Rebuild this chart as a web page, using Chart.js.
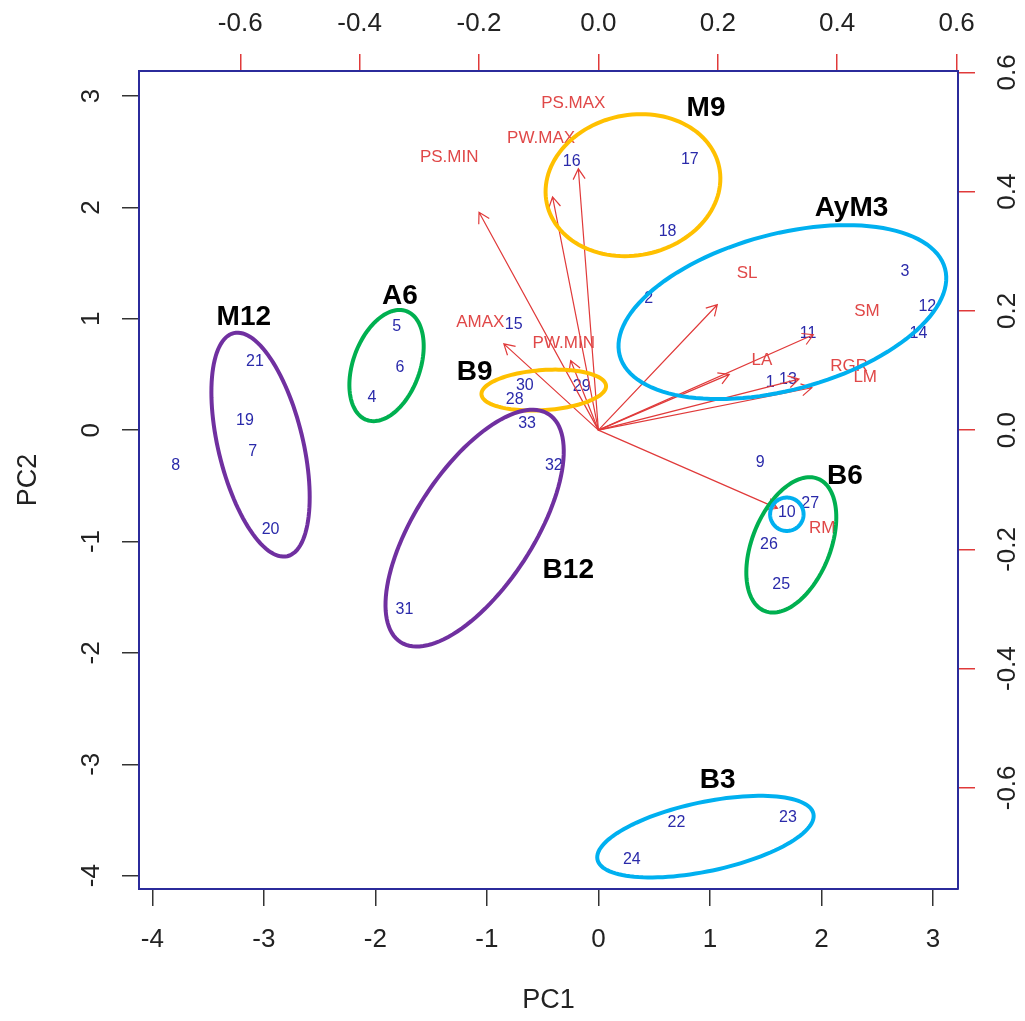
<!DOCTYPE html>
<html>
<head>
<meta charset="utf-8">
<title>PCA biplot</title>
<script src="https://cdn.jsdelivr.net/npm/chart.js@4.4.1/dist/chart.umd.min.js"></script>
<style>
  body { margin: 0; background: #fff; }
  canvas { display: block; }
</style>
</head>
<body>
<canvas id="biplot" width="1025" height="1021"></canvas>
<script>
// observation scores (PC1, PC2)
const obsLabels = ['1','2','3','4','5','6','7','8','9','10','11','12','13','14','15','16','17',
  '18','19','20','21','22','23','24','25','26','27','28','29','30','31','32','33'];
const obsPC1 = [1.54, 0.45, 2.75, -2.03, -1.81, -1.78, -3.10, -3.79, 1.45, 1.69, 1.88, 2.95, 1.70,
  2.87, -0.76, -0.24, 0.82, 0.62, -3.17, -2.94, -3.08, 0.70, 1.70, 0.30, 1.64, 1.53, 1.90,
  -0.75, -0.15, -0.66, -1.74, -0.40, -0.64];
const obsPC2 = [0.43, 1.18, 1.42, 0.29, 0.93, 0.56, -0.19, -0.32, -0.29, -0.74, 0.87, 1.11, 0.45,
  0.87, 0.95, 2.41, 2.43, 1.78, 0.09, -0.89, 0.62, -3.52, -3.48, -3.86, -1.39, -1.03, -0.66,
  0.27, 0.39, 0.40, -1.61, -0.32, 0.06];

// variable loadings (top / right axes)
const varNames = ['PS.MAX', 'PW.MAX', 'PS.MIN', 'AMAX', 'PW.MIN', 'SL', 'SM', 'LA', 'RGR', 'LM', 'RM'];
const varPC1 = [-0.042, -0.096, -0.250, -0.198, -0.058, 0.249, 0.450, 0.274, 0.420, 0.447, 0.375];
const varPC2 = [0.548, 0.489, 0.457, 0.181, 0.146, 0.263, 0.200, 0.117, 0.107, 0.089, -0.164];

// tick labels
const pcTicks = [-4, -3, -2, -1, 0, 1, 2, 3];
const loadTicks = [-0.6, -0.4, -0.2, 0, 0.2, 0.4, 0.6];

// group names written on the plot
const groupNames = ['M9', 'AyM3', 'A6', 'M12', 'B9', 'B12', 'B6', 'B3'];
const groupX = [0.965, 2.27, -1.78, -3.18, -1.11, -0.27, 2.21, 1.07];
const groupY = [2.89, 1.99, 1.20, 1.01, 0.52, -1.26, -0.41, -3.14];

// hand drawn rings round the groups, in PC units
const rings = [
  { cx: 0.31, cy: 2.20, a: 0.79, b: 0.63, angle: 12, color: '#ffc000' },
  { cx: 1.65, cy: 1.06, a: 1.51, b: 0.70, angle: 15, color: '#00b0f0' },
  { cx: -1.90, cy: 0.58, a: 0.52, b: 0.30, angle: 70, color: '#00b050' },
  { cx: -3.03, cy: -0.13, a: 1.03, b: 0.38, angle: 103.5, color: '#7030a0' },
  { cx: -0.49, cy: 0.36, a: 0.56, b: 0.18, angle: 4, color: '#ffc000' },
  { cx: -1.11, cy: -0.88, a: 1.22, b: 0.53, angle: 57, color: '#7030a0' },
  { cx: 1.73, cy: -1.03, a: 0.64, b: 0.35, angle: 68, color: '#00b050' },
  { cx: 1.69, cy: -0.755, a: 0.15, b: 0.15, angle: 0, color: '#00b0f0' },
  { cx: 0.96, cy: -3.65, a: 0.99, b: 0.31, angle: 12, color: '#00b0f0' }
];

const pcRange = [-4.12, 3.225];
const loadRatio = 5.353; // same ratio R's biplot uses between both pairs of axes

const FONT = "'Liberation Sans', Arial, sans-serif";
const boxColor = '#2b2b9b';

function drawArrow(ctx, x0, y0, x1, y1, len) {
  const ang = Math.atan2(y1 - y0, x1 - x0);
  ctx.beginPath();
  ctx.moveTo(x0, y0);
  ctx.lineTo(x1, y1);
  ctx.moveTo(x1 - len * Math.cos(ang - Math.PI / 6), y1 - len * Math.sin(ang - Math.PI / 6));
  ctx.lineTo(x1, y1);
  ctx.lineTo(x1 - len * Math.cos(ang + Math.PI / 6), y1 - len * Math.sin(ang + Math.PI / 6));
  ctx.stroke();
}

const biplotLayer = {
  id: 'biplotLayer',
  afterDatasetsDraw(chart) {
    const { ctx, scales } = chart;
    const sx = scales.x, sy = scales.y, lx = scales.x2, ly = scales.y2;
    ctx.save();
    ctx.textAlign = 'center';
    ctx.textBaseline = 'middle';

    // observation numbers
    ctx.fillStyle = '#2a2aaa';
    ctx.font = '16px ' + FONT;
    chart.getDatasetMeta(0).data.forEach((pt, i) => ctx.fillText(obsLabels[i], pt.x, pt.y));

    // arrows go to 0.8 of the loading, the name sits at the loading
    const ox = lx.getPixelForValue(0), oy = ly.getPixelForValue(0);
    ctx.strokeStyle = '#e03a3a';
    ctx.lineWidth = 1.2;
    varNames.forEach((name, i) => {
      drawArrow(ctx, ox, oy, lx.getPixelForValue(varPC1[i] * 0.8), ly.getPixelForValue(varPC2[i] * 0.8), 12);
    });
    ctx.fillStyle = '#e04848';
    ctx.font = '17px ' + FONT;
    chart.getDatasetMeta(1).data.forEach((pt, i) => ctx.fillText(varNames[i], pt.x, pt.y));

    // rings
    ctx.lineWidth = 4;
    rings.forEach(r => {
      const th = r.angle * Math.PI / 180;
      ctx.strokeStyle = r.color;
      ctx.beginPath();
      for (let k = 0; k <= 120; k++) {
        const t = k / 120 * 2 * Math.PI;
        const dx = r.a * Math.cos(t), dy = r.b * Math.sin(t);
        const px = sx.getPixelForValue(r.cx + dx * Math.cos(th) - dy * Math.sin(th));
        const py = sy.getPixelForValue(r.cy + dx * Math.sin(th) + dy * Math.cos(th));
        if (k === 0) ctx.moveTo(px, py); else ctx.lineTo(px, py);
      }
      ctx.closePath();
      ctx.stroke();
    });

    // group names
    ctx.fillStyle = '#000';
    ctx.font = 'bold 28px ' + FONT;
    groupNames.forEach((g, i) => ctx.fillText(g, sx.getPixelForValue(groupX[i]), sy.getPixelForValue(groupY[i])));
    ctx.restore();
  }
};

function axis(position, range, ticks, size, tickColor, pad, fmt, extra) {
  const horizontal = position === 'top' || position === 'bottom';
  return Object.assign({
    type: 'linear',
    position: position,
    min: range[0],
    max: range[1],
    afterBuildTicks: s => { s.ticks = ticks.map(v => ({ value: v })); },
    afterFit: s => { if (horizontal) s.height = size; else s.width = size; },
    grid: { drawOnChartArea: false, tickLength: 17, tickColor: tickColor, lineWidth: 1.5 },
    border: { color: boxColor, width: 2 },
    ticks: {
      autoSkip: false,
      padding: pad,
      color: '#222',
      font: { family: FONT, size: 26 },
      minRotation: horizontal ? 0 : 90,
      crossAlign: 'center',
      callback: v => fmt(v)
    }
  }, extra || {});
}

const pcFmt = v => String(v);
const loadFmt = v => v.toFixed(1);
const loadRange = [pcRange[0] / loadRatio, pcRange[1] / loadRatio];

new Chart(document.getElementById('biplot').getContext('2d'), {
  type: 'scatter',
  data: {
    datasets: [{
      label: 'scores',
      data: obsPC1.map((x, i) => ({ x: x, y: obsPC2[i] })),
      xAxisID: 'x',
      yAxisID: 'y',
      pointRadius: 0
    }, {
      label: 'loadings',
      data: varPC1.map((x, i) => ({ x: x, y: varPC2[i] })),
      xAxisID: 'x2',
      yAxisID: 'y2',
      pointRadius: 0
    }]
  },
  options: {
    responsive: false,
    animation: false,
    events: [],
    layout: { padding: 0 },
    plugins: { legend: { display: false }, tooltip: { enabled: false } },
    scales: {
      x: axis('bottom', pcRange, pcTicks, 132, '#333', 34, pcFmt, {
        title: { display: true, text: 'PC1', color: '#222', font: { family: FONT, size: 27 }, padding: { bottom: 4 } }
      }),
      y: axis('left', pcRange, pcTicks, 139, '#333', 19, pcFmt, {
        title: { display: true, text: 'PC2', color: '#222', font: { family: FONT, size: 27 }, padding: { top: 12 } }
      }),
      x2: axis('top', loadRange, loadTicks, 71, '#e03a3a', 30, loadFmt),
      y2: axis('right', loadRange, loadTicks, 67, '#e03a3a', 10, loadFmt)
    }
  },
  plugins: [biplotLayer]
});
</script>
</body>
</html>
